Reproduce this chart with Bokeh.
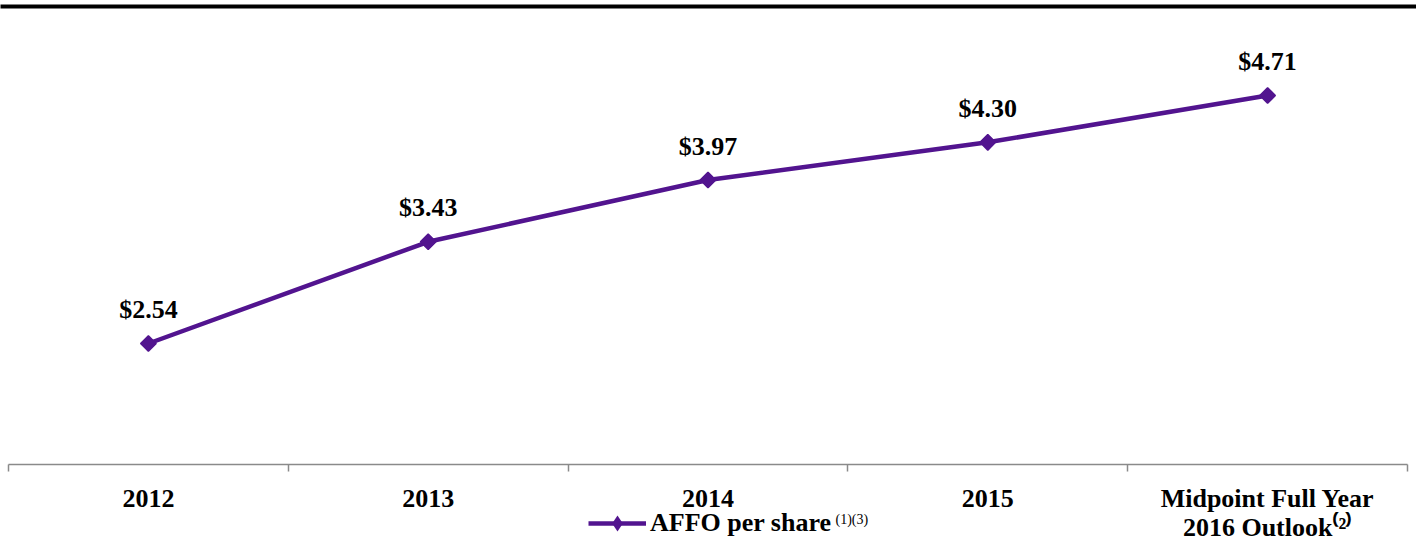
import math
from bokeh.plotting import figure
from bokeh.models import (Range1d, LinearAxis, FixedTicker, Legend, LegendItem, Label)
from bokeh.core.properties import value
from bokeh.embed import file_html
from bokeh.resources import INLINE

categories = ["2012", "2013", "2014", "2015", "Midpoint Full Year\n2016 Outlook\u207d\u00b2\u207e"]
affo = [2.54, 3.43, 3.97, 4.30, 4.71]
value_labels = ["$2.54", "$3.43", "$3.97", "$4.30", "$4.71"]
series_name = "AFFO per share"
series_note = "(1)(3)"

xs = list(range(len(categories)))
PURPLE = "#52148f"
FONT = "Liberation Serif"
AXIS_Y = 1.4814

p = figure(width=1416, height=541, output_backend="svg", toolbar_location=None,
           x_range=Range1d(-0.5286, 4.5322), y_range=Range1d(0.8077, 5.4884),
           min_border_left=0, min_border_right=0, min_border_top=6, min_border_bottom=0,
           x_axis_location=None, y_axis_location=None)
p.outline_line_color = None
p.grid.visible = False
p.background_fill_color = "white"
p.border_fill_color = "white"

# top rule
top = LinearAxis(ticker=FixedTicker(ticks=[]), axis_line_color="black", axis_line_width=4,
                 major_tick_line_color=None, minor_tick_line_color=None,
                 major_label_text_font_size="0px")
p.add_layout(top, "above")

# bottom category axis, drawn inside the frame
bottom = LinearAxis(ticker=FixedTicker(ticks=xs, minor_ticks=[i - 0.5 for i in range(len(xs) + 1)]),
                    bounds=(-0.5, len(xs) - 0.5), fixed_location=AXIS_Y)
bottom.axis_line_color = "#8a8a8a"
bottom.axis_line_width = 1.5
bottom.major_tick_line_color = None
bottom.major_tick_out = 0
bottom.major_tick_in = 0
bottom.minor_tick_line_color = "#8a8a8a"
bottom.minor_tick_line_width = 1.5
bottom.minor_tick_out = 7
bottom.minor_tick_in = 0
bottom.major_label_overrides = {i: c for i, c in enumerate(categories)}
bottom.major_label_text_font = FONT
bottom.major_label_text_font_style = "bold"
bottom.major_label_text_font_size = "26px"
bottom.major_label_text_color = "black"
bottom.major_label_standoff = 13
bottom.major_label_text_line_height = 1.0
p.add_layout(bottom, "below")

ln = p.line(xs, affo, line_color=PURPLE, line_width=4.5)
# diamond marker used for the legend swatch (hidden under the rotated squares on the plot)
sc_leg = p.scatter(xs, affo, marker="diamond", size=15,
                   fill_color=PURPLE, line_color=None)
sc = p.scatter(xs, affo, marker="square", angle=math.pi / 4, size=11,
               fill_color=PURPLE, line_color=PURPLE, line_width=1.5)

p.text(xs, affo, text=value_labels, text_font=value(FONT), text_font_style="bold",
       text_font_size="26px", text_align="center", text_baseline="middle",
       y_offset=-34, text_color="black")

legend = Legend(items=[LegendItem(label=series_name, renderers=[ln, sc_leg])],
                location=(588, -2), orientation="horizontal",
                glyph_width=58, glyph_height=40, label_standoff=4, padding=0, margin=0,
                border_line_color=None, background_fill_alpha=0,
                label_text_font=FONT, label_text_font_style="bold",
                label_text_font_size="26px", label_text_color="black")
p.add_layout(legend)

note = Label(x=835, y=15, x_units="screen", y_units="screen", text=series_note,
             text_font=FONT, text_font_size="14px", text_color="black",
             text_align="left", text_baseline="bottom")
p.add_layout(note)

open("out.html", "w").write(file_html(p, INLINE))
